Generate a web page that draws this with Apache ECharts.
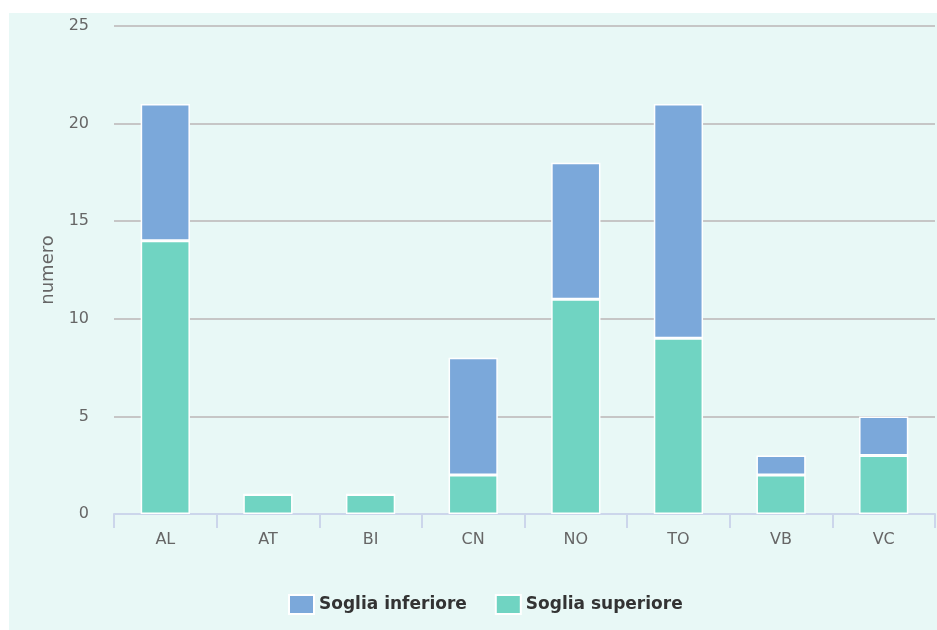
<!DOCTYPE html>
<html>
<head>
<meta charset="utf-8">
<script src="https://cdn.jsdelivr.net/npm/echarts@6/dist/echarts.min.js"></script>
<style>
html,body{margin:0;padding:0;background:#ffffff;}
#wrap{position:absolute;left:9px;top:13px;width:928px;height:617px;background:#e8f8f6;}
#chart{width:928px;height:617px;}
</style>
</head>
<body>
<div id="wrap"><div id="chart"></div></div>
<script>
const categories = ['AL','AT','BI','CN','NO','TO','VB','VC'];
const sogliaSuperiore = [14, 1, 1, 2, 11, 9, 2, 3];
const sogliaInferiore = [7, 0, 0, 6, 7, 12, 1, 2];
const yTicks = [0, 5, 10, 15, 20, 25];

const FONT = 'DejaVu Sans';
const chart = echarts.init(document.getElementById('chart'), null, {renderer:'canvas'});
chart.setOption({
  backgroundColor: 'transparent',
  animation: false,
  textStyle: {fontFamily: FONT},
  grid: {left: 105, top: 13, right: 2, bottom: 116, containLabel: false},
  legend: {
    data: ['Soglia inferiore', 'Soglia superiore'],
    left: 279, top: 581, padding: 0,
    itemWidth: 25, itemHeight: 19, itemGap: 28,
    icon: 'rect',
    textStyle: {fontFamily: FONT, fontSize: 17, fontWeight: 'bold', color: '#333333'}
  },
  xAxis: {
    type: 'category',
    data: categories,
    axisLine: {lineStyle: {color: '#ccd6eb', width: 2}},
    axisTick: {show: true, length: 14, lineStyle: {color: '#ccd6eb', width: 2}, alignWithLabel: false},
    axisLabel: {color: '#666666', fontSize: 16, fontFamily: FONT, margin: 18}
  },
  yAxis: {
    type: 'value',
    min: yTicks[0], max: yTicks[yTicks.length-1], interval: 5,
    name: 'numero',
    nameLocation: 'middle',
    nameGap: 57,
    nameTextStyle: {color: '#666666', fontSize: 18, fontFamily: FONT},
    axisLine: {show: false},
    axisTick: {show: false},
    axisLabel: {color: '#666666', fontSize: 16, fontFamily: FONT, margin: 25},
    splitLine: {lineStyle: {color: '#c6c6c6', width: 2}}
  },
  series: [
    {
      name: 'Soglia superiore', type: 'bar', stack: 'tot',
      data: sogliaSuperiore, barWidth: '48%',
      itemStyle: {color: '#70d4c2', borderColor: '#ffffff', borderWidth: 1.5}
    },
    {
      name: 'Soglia inferiore', type: 'bar', stack: 'tot',
      data: sogliaInferiore, barWidth: '48%',
      itemStyle: {color: '#7ba8da', borderColor: '#ffffff', borderWidth: 1.5}
    }
  ]
});
</script>
</body>
</html>
